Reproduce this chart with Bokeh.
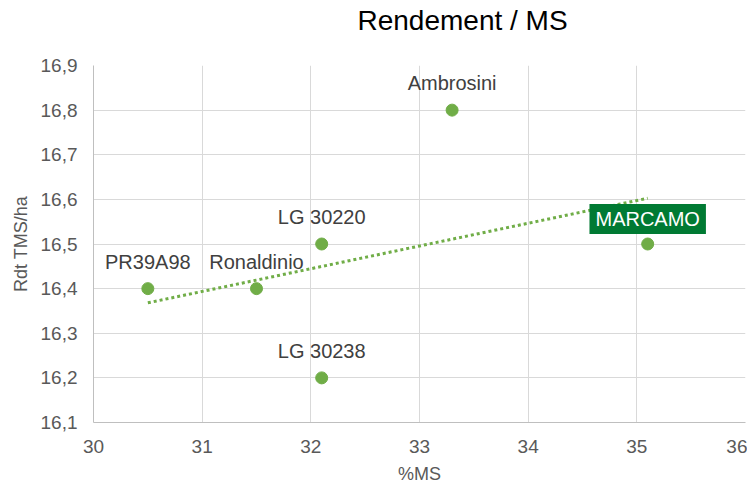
import numpy as np
from bokeh.plotting import figure
from bokeh.models import (ColumnDataSource, LabelSet, Label, FixedTicker, Range1d, Title)
from bokeh.core.properties import value
from bokeh.embed import file_html
from bokeh.resources import INLINE

# ---- data ----
names = ["PR39A98", "Ronaldinio", "LG 30220", "LG 30238", "Ambrosini", "MARCAMO"]
ms = [30.5, 31.5, 32.1, 32.1, 33.3, 35.1]
rdt = [16.4, 16.4, 16.5, 16.2, 16.8, 16.5]
x_ticks = [30, 31, 32, 33, 34, 35, 36]
x_tick_labels = ["30", "31", "32", "33", "34", "35", "36"]
y_ticks = [16.1, 16.2, 16.3, 16.4, 16.5, 16.6, 16.7, 16.8, 16.9]
y_tick_labels = ["16,1", "16,2", "16,3", "16,4", "16,5", "16,6", "16,7", "16,8", "16,9"]
highlight = "MARCAMO"
title_text = "Rendement / MS"
x_title = "%MS"
y_title = "Rdt TMS/ha"

FONT = "Liberation Sans"
GREEN = "#70AD47"
DARK = "#007A33"

p = figure(width=747, height=486, output_backend="svg", toolbar_location=None, title=None,
           x_range=Range1d(x_ticks[0], x_ticks[-1]), y_range=Range1d(y_ticks[0], y_ticks[-1]),
           min_border_left=93, min_border_right=2, min_border_top=65, min_border_bottom=64)

# spacer between the frame and the title (first "above" item sits nearest the frame)
p.add_layout(Title(text=" ", text_font=FONT, text_font_size="14px", standoff=12,
                   text_color="white"), "above")
p.add_layout(Title(text=title_text, align="left", offset=264, standoff=0,
                   vertical_align="bottom", text_font=FONT, text_font_size="28px",
                   text_font_style="normal", text_color="#000000"), "above")

p.outline_line_color = None
p.background_fill_color = "white"
p.border_fill_color = "white"

for ax in (p.xaxis, p.yaxis):
    ax.major_tick_line_color = None
    ax.minor_tick_line_color = None
    ax.axis_line_color = "#BFBFBF"
    ax.major_label_text_font = FONT
    ax.major_label_text_font_size = "19px"
    ax.major_label_text_color = "#595959"
    ax.axis_label_text_font = FONT
    ax.axis_label_text_font_size = "18px"
    ax.axis_label_text_font_style = "normal"
    ax.axis_label_text_color = "#595959"

p.xaxis.ticker = FixedTicker(ticks=x_ticks)
p.xaxis.major_label_overrides = dict(zip(x_ticks, x_tick_labels))
p.yaxis.ticker = FixedTicker(ticks=y_ticks)
p.yaxis.major_label_overrides = dict(zip(y_ticks, y_tick_labels))
p.xaxis.axis_label = x_title
p.yaxis.axis_label = y_title
p.xaxis.major_label_standoff = 11
p.xaxis.axis_label_standoff = 8
p.yaxis.major_label_standoff = 10
p.yaxis.axis_label_standoff = 7

p.xgrid.grid_line_color = "#D9D9D9"
p.ygrid.grid_line_color = "#D9D9D9"
p.xgrid.grid_line_width = 1
p.ygrid.grid_line_width = 1

# trendline (linear regression of the data)
slope, intercept = np.polyfit(ms, rdt, 1)
tx = [min(ms), max(ms)]
ty = [slope * v + intercept for v in tx]
p.line(tx, ty, line_color=GREEN, line_width=3, line_dash="3 3")

src = ColumnDataSource(dict(x=ms, y=rdt, name=[n if n != highlight else "" for n in names]))
p.scatter("x", "y", source=src, size=12, fill_color=GREEN, line_color=GREEN)

labels = LabelSet(x="x", y="y", text="name", source=src, text_align="center",
                  text_baseline="alphabetic", y_offset=20, text_font=value(FONT),
                  text_font_size=value("20px"), text_color=value("#404040"))
p.add_layout(labels)

hi = names.index(highlight)
p.add_layout(Label(x=ms[hi], y=rdt[hi], text=highlight, text_align="center",
                   text_baseline="middle", y_offset=25, text_font=FONT,
                   text_font_size="20px", text_color="white",
                   background_fill_color=DARK,
                   padding=dict(left=6, right=6, top=4, bottom=4)))

open("out.html", "w").write(file_html(p, INLINE))
